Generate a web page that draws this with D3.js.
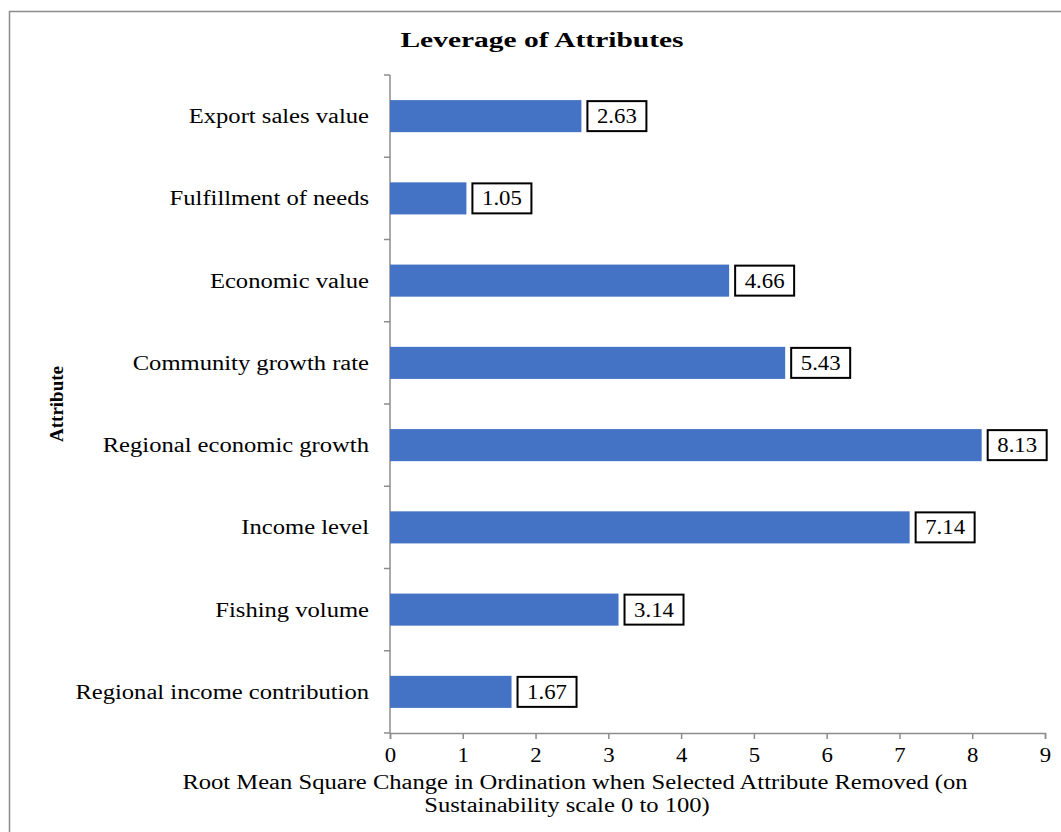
<!DOCTYPE html>
<html>
<head>
<meta charset="utf-8">
<script src="https://cdn.jsdelivr.net/npm/d3@7"></script>
<style>
  body { margin: 0; background: #fff; }
  svg { display: block; font-family: "Liberation Serif", "Times New Roman", serif; }
</style>
</head>
<body>
<svg id="chart"></svg>
<script>
const width = 1061, height = 832;

const attributes = [
    "Export sales value",
    "Fulfillment of needs",
    "Economic value",
    "Community growth rate",
    "Regional economic growth",
    "Income level",
    "Fishing volume",
    "Regional income contribution"
];
const leverage = [2.63, 1.05, 4.66, 5.43, 8.13, 7.14, 3.14, 1.67];
const xTicks = [0, 1, 2, 3, 4, 5, 6, 7, 8, 9];

const margin = { left: 390, right: 16, top: 75, bottom: 99 };
// the source text is slightly wide, so stretch it horizontally
const wide = 1.23, wideNum = 1.14, wideTitle = 1.34;

const svg = d3.select("#chart")
    .attr("width", width)
    .attr("height", height);

// outer chart border
svg.append("rect")
    .attr("x", 9.5).attr("y", 11.5)
    .attr("width", width + 20).attr("height", height + 20)
    .attr("fill", "none")
    .attr("stroke", "#8c8c8c")
    .attr("stroke-width", 1.5);

const x = d3.scaleLinear().domain([0, 9]).range([margin.left, width - margin.right]);
const y = d3.scaleBand().domain(attributes).range([margin.top, height - margin.bottom]).paddingInner(0.61).paddingOuter(0.305);

// title
svg.append("text")
    .attr("transform", `translate(542,47) scale(${wideTitle},1)`)
    .attr("text-anchor", "middle")
    .style("font-size", "22px")
    .style("font-weight", "bold")
    .text("Leverage of Attributes");

// y axis line + category ticks
const yAxisG = svg.append("g");
const bandStep = y.step();
const tickYs = d3.range(attributes.length + 1).map(i => margin.top + i * bandStep);
yAxisG.append("line")
    .attr("x1", margin.left).attr("x2", margin.left)
    .attr("y1", margin.top).attr("y2", height - margin.bottom)
    .attr("stroke", "#8c8c8c").attr("stroke-width", 1.5);
yAxisG.selectAll("line.tick")
    .data(tickYs)
    .enter().append("line")
    .attr("class", "tick")
    .attr("x1", margin.left - 6).attr("x2", margin.left)
    .attr("y1", d => d).attr("y2", d => d)
    .attr("stroke", "#8c8c8c").attr("stroke-width", 1.5);
yAxisG.selectAll("text")
    .data(attributes)
    .enter().append("text")
    .attr("transform", d => `translate(${margin.left - 21},${y(d) + y.bandwidth() / 2}) scale(${wide},1)`)
    .attr("dy", "0.35em")
    .attr("text-anchor", "end")
    .style("font-size", "20px")
    .attr("fill", "#000")
    .text(d => d);

// x axis
const xAxis = d3.axisBottom(x).tickValues(xTicks).tickSize(6).tickPadding(9);
const xAxisG = svg.append("g")
    .attr("transform", `translate(0,${height - margin.bottom})`)
    .call(xAxis);
xAxisG.select(".domain").attr("stroke", "#8c8c8c").attr("stroke-width", 1.5);
xAxisG.selectAll(".tick line").attr("stroke", "#8c8c8c").attr("stroke-width", 1.5);
xAxisG.selectAll(".tick text")
    .attr("transform", `scale(${wideNum},1)`)
    .style("font-family", "Liberation Serif, serif")
    .style("font-size", "20px")
    .attr("fill", "#000");

// bars
svg.selectAll("rect.bar")
    .data(attributes)
    .enter().append("rect")
    .attr("class", "bar")
    .attr("x", x(0))
    .attr("y", d => y(d))
    .attr("width", (d, i) => x(leverage[i]) - x(0))
    .attr("height", y.bandwidth())
    .attr("fill", "#4472C4");

// value labels in boxes
const labels = svg.selectAll("g.lbl")
    .data(attributes)
    .enter().append("g")
    .attr("class", "lbl")
    .attr("transform", (d, i) => `translate(${x(leverage[i]) + 6},${y(d) + y.bandwidth() / 2})`);
labels.append("rect")
    .attr("x", 0).attr("y", -15)
    .attr("width", 59).attr("height", 30)
    .attr("fill", "#fff")
    .attr("stroke", "#000")
    .attr("stroke-width", 2);
labels.append("text")
    .attr("transform", `translate(29.5,0) scale(${wideNum},1)`)
    .attr("dy", "0.35em")
    .attr("text-anchor", "middle")
    .style("font-size", "20px")
    .text((d, i) => leverage[i].toFixed(2));

// axis titles
svg.append("text")
    .attr("transform", `translate(63,${margin.top + (height - margin.bottom - margin.top) / 2}) rotate(-90)`)
    .attr("text-anchor", "middle")
    .style("font-size", "19px")
    .style("font-weight", "bold")
    .text("Attribute");

const xTitle = svg.append("text")
    .attr("transform", `translate(575,789) scale(${wide},1)`)
    .attr("text-anchor", "middle")
    .style("font-size", "20px");
xTitle.append("tspan")
    .attr("x", 0)
    .text("Root Mean Square Change in Ordination when Selected Attribute Removed (on");
xTitle.append("tspan")
    .attr("x", -8 / wide).attr("dy", 23)
    .text("Sustainability scale 0 to 100)");
</script>
</body>
</html>
